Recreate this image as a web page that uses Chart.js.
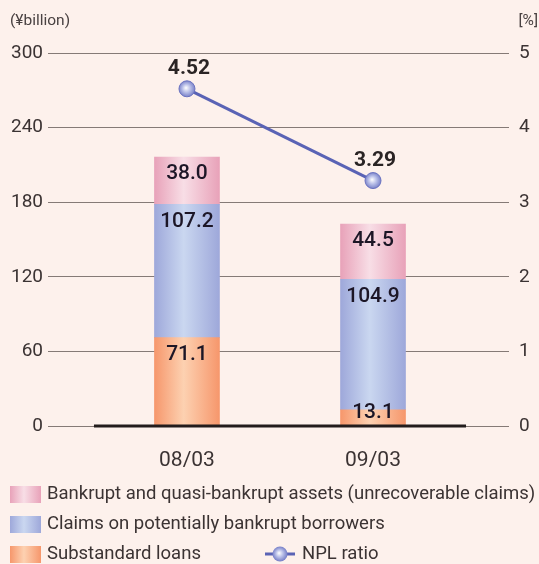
<!DOCTYPE html>
<html>
<head>
<meta charset="utf-8">
<script src="https://cdn.jsdelivr.net/npm/chart.js@4.4.1/dist/chart.umd.min.js"></script>
<style>
  html, body { margin: 0; padding: 0; background: #fdf1ec; }
  #npl { display: block; }
</style>
</head>
<body>
<canvas id="npl" width="539" height="564"></canvas>
<script>
const categories = ['08/03', '09/03'];
const substandardLoans = [71.1, 13.1];
const claimsPotential = [107.2, 104.9];
const bankruptAssets = [38.0, 44.5];
const nplRatio = [4.52, 3.29];
const leftTicks = [0, 60, 120, 180, 240, 300];
const rightTicks = [0, 1, 2, 3, 4, 5];

const seriesNames = [
    'Substandard loans',
    'Claims on potentially bankrupt borrowers',
    'Bankrupt and quasi-bankrupt assets (unrecoverable claims)',
    'NPL ratio'
];

const FONT = 'Roboto, "Noto Sans", sans-serif';
const TEXT = '#3b3333';
const BAR_W = 65;

// edge colour, centre colour
const orangeStops = ['#f6976c', '#fdd1b1'];
const blueStops = ['#9ea8da', '#cad7f0'];
const pinkStops = ['#e8a2b9', '#f8dee6'];

function hGradient(ctx, x0, x1, stops) {
    const g = ctx.createLinearGradient(x0, 0, x1, 0);
    g.addColorStop(0, stops[0]);
    g.addColorStop(0.45, stops[1]);
    g.addColorStop(1, stops[0]);
    return g;
}

function barFill(stops) {
    return function (context) {
        const chart = context.chart;
        if (!chart.chartArea || context.dataIndex === undefined) return stops[0];
        const cx = chart.scales.x.getPixelForValue(context.dataIndex);
        return hGradient(chart.ctx, cx - BAR_W / 2, cx + BAR_W / 2, stops);
    };
}

function pointFill(context) {
    const chart = context.chart;
    if (!chart.chartArea || context.dataIndex === undefined) return '#8890d0';
    const cx = chart.scales.x.getPixelForValue(context.dataIndex);
    const cy = chart.scales.y1.getPixelForValue(nplRatio[context.dataIndex]);
    const g = chart.ctx.createRadialGradient(cx - 1, cy - 1, 0, cx, cy, 9);
    g.addColorStop(0, '#ffffff');
    g.addColorStop(0.45, '#b9bfe8');
    g.addColorStop(1, '#6c75c2');
    return g;
}

const toXY = arr => arr.map((v, i) => ({ x: i, y: v }));

const decorations = {
    id: 'decorations',
    afterDatasetsDraw(chart) {
        const ctx = chart.ctx;
        const xs = chart.scales.x;
        const area = chart.chartArea;

        // thick baseline under the two categories
        ctx.save();
        ctx.strokeStyle = '#231c1c';
        ctx.lineWidth = 3;
        ctx.beginPath();
        ctx.moveTo(xs.getPixelForValue(-0.5), area.bottom);
        ctx.lineTo(xs.getPixelForValue(1.5), area.bottom);
        ctx.stroke();

        // values inside the bar segments
        ctx.fillStyle = '#1c1626';
        ctx.font = '500 21px ' + FONT;
        ctx.textAlign = 'center';
        ctx.textBaseline = 'middle';
        [0, 1, 2].forEach(di => {
            const meta = chart.getDatasetMeta(di);
            meta.data.forEach((el, i) => {
                const v = chart.data.datasets[di].data[i].y;
                const y = Math.min(el.y + 17, (el.y + el.base) / 2 - 5);
                ctx.fillText(v.toFixed(1), el.x, y);
            });
        });

        // NPL ratio labels
        ctx.font = 'bold 21px ' + FONT;
        ctx.fillStyle = '#2a2424';
        chart.getDatasetMeta(3).data.forEach((pt, i) => {
            ctx.fillText(nplRatio[i].toFixed(2), pt.x + 2, pt.y - 20);
        });
        ctx.restore();
    },
    afterDraw(chart) {
        const ctx = chart.ctx;
        ctx.save();
        // unit captions
        ctx.fillStyle = '#4a4242';
        ctx.font = '15.5px ' + FONT;
        ctx.textBaseline = 'middle';
        ctx.textAlign = 'left';
        ctx.fillText('(¥billion)', 10, 21);
        ctx.textAlign = 'right';
        ctx.fillText('[%]', 538, 21);

        // legend
        ctx.textAlign = 'left';
        ctx.font = '18.5px ' + FONT;
        ctx.fillStyle = TEXT;
        const rows = [
            { name: seriesNames[2], stops: pinkStops, x: 10, y: 494 },
            { name: seriesNames[1], stops: blueStops, x: 10, y: 524 },
            { name: seriesNames[0], stops: orangeStops, x: 10, y: 554 }
        ];
        rows.forEach(r => {
            ctx.fillStyle = hGradient(ctx, r.x, r.x + 31, r.stops);
            ctx.fillRect(r.x, r.y - 8, 31, 17);
            ctx.fillStyle = TEXT;
            ctx.fillText(r.name, r.x + 37, r.y);
        });
        // line marker
        const mx = 280, my = 554;
        ctx.strokeStyle = '#5a63b5';
        ctx.lineWidth = 3;
        ctx.beginPath();
        ctx.moveTo(mx - 15, my);
        ctx.lineTo(mx + 15, my);
        ctx.stroke();
        const g = ctx.createRadialGradient(mx - 1, my - 1, 0, mx, my, 8);
        g.addColorStop(0, '#ffffff');
        g.addColorStop(0.45, '#b9bfe8');
        g.addColorStop(1, '#6c75c2');
        ctx.fillStyle = g;
        ctx.beginPath();
        ctx.arc(mx, my, 7.5, 0, Math.PI * 2);
        ctx.fill();
        ctx.fillStyle = TEXT;
        ctx.fillText(seriesNames[3], 302, my);
        ctx.restore();
    }
};

new Chart(document.getElementById('npl').getContext('2d'), {
    data: {
        datasets: [{
            type: 'bar',
            label: seriesNames[0],
            data: toXY(substandardLoans),
            backgroundColor: barFill(orangeStops),
            barThickness: BAR_W,
            yAxisID: 'y',
            order: 1
        },
        {
            type: 'bar',
            label: seriesNames[1],
            data: toXY(claimsPotential),
            backgroundColor: barFill(blueStops),
            barThickness: BAR_W,
            yAxisID: 'y',
            order: 1
        },
        {
            type: 'bar',
            label: seriesNames[2],
            data: toXY(bankruptAssets),
            backgroundColor: barFill(pinkStops),
            barThickness: BAR_W,
            yAxisID: 'y',
            order: 1
        },
        {
            type: 'line',
            label: seriesNames[3],
            data: toXY(nplRatio),
            yAxisID: 'y1',
            borderColor: '#5a63b5',
            borderWidth: 3,
            pointRadius: 8,
            pointBackgroundColor: pointFill,
            pointBorderColor: '#6a72c0',
            pointBorderWidth: 1,
            tension: 0,
            order: 0
        }]
    },
    options: {
        responsive: false,
        animation: false,
        events: [],
        layout: {
            padding: { top: 53, bottom: 93, left: 0, right: 0 }
        },
        plugins: {
            legend: { display: false },
            tooltip: { enabled: false }
        },
        scales: {
            x: {
                type: 'linear',
                offset: false,
                min: -0.747,
                max: 1.731,
                stacked: true,
                grid: { display: false },
                border: { display: false },
                afterBuildTicks: scale => {
                    scale.ticks = categories.map((c, i) => ({ value: i }));
                },
                afterFit: scale => { scale.height = 45; },
                ticks: {
                    callback: v => categories[v],
                    font: { family: FONT, size: 21 },
                    color: TEXT,
                    padding: 14,
                    maxRotation: 0,
                    autoSkip: false
                }
            },
            y: {
                position: 'left',
                stacked: true,
                min: 0,
                max: 300,
                afterBuildTicks: scale => {
                    scale.ticks = leftTicks.map(v => ({ value: v }));
                },
                afterFit: scale => { scale.width = 48; },
                grid: { color: '#857a76', lineWidth: 1, drawTicks: false },
                border: { display: false },
                ticks: {
                    font: { family: FONT, size: 19 },
                    color: TEXT,
                    padding: 5
                }
            },
            y1: {
                position: 'right',
                stacked: false,
                min: 0,
                max: 5,
                afterBuildTicks: scale => {
                    scale.ticks = rightTicks.map(v => ({ value: v }));
                },
                afterFit: scale => { scale.width = 30; },
                grid: { display: false, drawTicks: false },
                border: { display: false },
                ticks: {
                    font: { family: FONT, size: 19 },
                    color: TEXT,
                    padding: 10
                }
            }
        }
    },
    plugins: [decorations]
});
</script>
</body>
</html>
